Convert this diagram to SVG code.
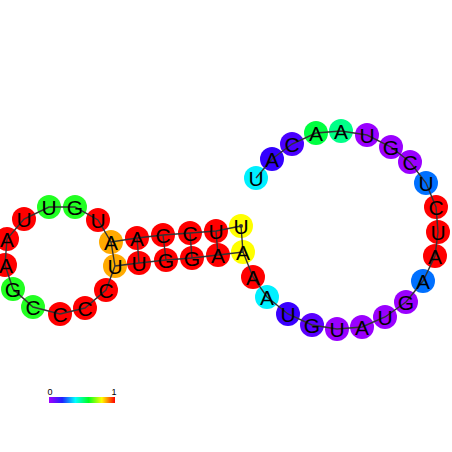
<svg xmlns="http://www.w3.org/2000/svg" width="452" height="452" viewBox="0 0 452 452">
<defs>
<linearGradient id="cb" x1="0" y1="0" x2="1" y2="0">
<stop offset="0" stop-color="#a000ff"/>
<stop offset="0.2" stop-color="#2020ff"/>
<stop offset="0.4" stop-color="#00ffff"/>
<stop offset="0.6" stop-color="#00ff20"/>
<stop offset="0.8" stop-color="#ffff00"/>
<stop offset="1" stop-color="#ff0000"/>
</linearGradient>
<style>
.n circle{stroke:none}
.n text{font-family:"Liberation Sans",Arial,sans-serif;font-size:21px;text-anchor:middle;dominant-baseline:central;fill:#000}
.bb{fill:none;stroke:#333;stroke-width:1.4}
.bp{stroke:#333;stroke-width:1.4}
.lbl{font-family:"Liberation Sans",Arial,sans-serif;font-size:9px;fill:#000;text-anchor:middle}
</style>
</defs>
<rect width="452" height="452" fill="#fff"/>
<g id="circles" class="n">
<circle id="c1" cx="241" cy="226" r="12" fill="#ffff00"/>
<circle id="c2" cx="216" cy="231" r="12" fill="#ff0000"/>
<circle id="c3" cx="190" cy="233" r="12" fill="#ff0000"/>
<circle id="c4" cx="163" cy="235" r="12" fill="#ff0000"/>
<circle id="c5" cx="137" cy="238" r="12" fill="#ff0000"/>
<circle id="c6" cx="111" cy="242" r="12" fill="#ffaa00"/>
<circle id="c7" cx="98" cy="220" r="12" fill="#ff0000"/>
<circle id="c8" cx="75" cy="207" r="12" fill="#22ff22"/>
<circle id="c9" cx="49" cy="207" r="12" fill="#22ff22"/>
<circle id="c10" cx="24" cy="219" r="12" fill="#ff0000"/>
<circle id="c11" cx="7" cy="239" r="12" fill="#ff0000"/>
<circle id="c12" cx="5" cy="265" r="12" fill="#ff0000"/>
<circle id="c13" cx="13" cy="289" r="12" fill="#22ff22"/>
<circle id="c14" cx="33" cy="307" r="12" fill="#22ff22"/>
<circle id="c15" cx="60" cy="314" r="12" fill="#ff0000"/>
<circle id="c16" cx="85" cy="308" r="12" fill="#ff0000"/>
<circle id="c17" cx="106" cy="290" r="12" fill="#ff0000"/>
<circle id="c18" cx="115" cy="266" r="12" fill="#ffaa00"/>
<circle id="c19" cx="139" cy="263" r="12" fill="#ff0000"/>
<circle id="c20" cx="166" cy="260" r="12" fill="#ff0000"/>
<circle id="c21" cx="192" cy="258" r="12" fill="#ff0000"/>
<circle id="c22" cx="218" cy="255" r="12" fill="#ff0000"/>
<circle id="c23" cx="243" cy="252" r="12" fill="#ffff00"/>
<circle id="c24" cx="253" cy="277" r="12" fill="#ff0000"/>
<circle id="c25" cx="267" cy="297" r="12" fill="#00f0ff"/>
<circle id="c26" cx="288" cy="314" r="12" fill="#3a00ff"/>
<circle id="c27" cx="312" cy="325" r="12" fill="#5a00ff"/>
<circle id="c28" cx="337" cy="329" r="12" fill="#9a00ff"/>
<circle id="c29" cx="362" cy="327" r="12" fill="#9a00ff"/>
<circle id="c30" cx="385" cy="317" r="12" fill="#9a00ff"/>
<circle id="c31" cx="406" cy="302" r="12" fill="#9a00ff"/>
<circle id="c32" cx="423" cy="281" r="12" fill="#0070ff"/>
<circle id="c33" cx="435" cy="256" r="12" fill="#ff0000"/>
<circle id="c34" cx="438" cy="232" r="12" fill="#ff0000"/>
<circle id="c35" cx="436" cy="207" r="12" fill="#ff0000"/>
<circle id="c36" cx="426" cy="183" r="12" fill="#0070ff"/>
<circle id="c37" cx="410" cy="162" r="12" fill="#9a00ff"/>
<circle id="c38" cx="391" cy="147" r="12" fill="#9a00ff"/>
<circle id="c39" cx="367" cy="135" r="12" fill="#9a00ff"/>
<circle id="c40" cx="341" cy="131" r="12" fill="#00ff88"/>
<circle id="c41" cx="316" cy="133" r="12" fill="#00ff40"/>
<circle id="c42" cx="292" cy="144" r="12" fill="#4a00ff"/>
<circle id="c43" cx="272" cy="159" r="12" fill="#3300ff"/>
<circle id="c44" cx="256" cy="178" r="12" fill="#00f0ff"/>
</g>
<g id="connectors">
<polyline class="bb" points="241,226 216,231 190,233 163,235 137,238 111,242 98,220 75,207 49,207 24,219 7,239 5,265 13,289 33,307 60,314 85,308 106,290 115,266 139,263 166,260 192,258 218,255 243,252 253,277 267,297 288,314 312,325 337,329 362,327 385,317 406,302 423,281 435,256 438,232 436,207 426,183 410,162 391,147 367,135 341,131 316,133 292,144 272,159 256,178"/>
<line class="bp" x1="241" y1="226" x2="243" y2="252"/>
<line class="bp" x1="216" y1="231" x2="218" y2="255"/>
<line class="bp" x1="190" y1="233" x2="192" y2="258"/>
<line class="bp" x1="163" y1="235" x2="166" y2="260"/>
<line class="bp" x1="137" y1="238" x2="139" y2="263"/>
<line class="bp" x1="111" y1="242" x2="115" y2="266"/>
<circle cx="241" cy="226" r="2" fill="#333"/>
</g>
<g id="labels" class="n">
<text x="241" y="226">U</text>
<text x="216" y="231">U</text>
<text x="190" y="233">C</text>
<text x="163" y="235">C</text>
<text x="137" y="238">A</text>
<text x="111" y="242">A</text>
<text x="98" y="220">U</text>
<text x="75" y="207">G</text>
<text x="49" y="207">U</text>
<text x="24" y="219">U</text>
<text x="7" y="239">A</text>
<text x="6" y="265">A</text>
<text x="13" y="289">G</text>
<text x="33" y="307">C</text>
<text x="60" y="314">C</text>
<text x="85" y="308">C</text>
<text x="106" y="290">C</text>
<text x="115" y="266">U</text>
<text x="139" y="263">U</text>
<text x="166" y="260">G</text>
<text x="192" y="258">G</text>
<text x="218" y="255">A</text>
<text x="243" y="252">A</text>
<text x="253" y="277">A</text>
<text x="267" y="297">A</text>
<text x="288" y="314">U</text>
<text x="312" y="325">G</text>
<text x="337" y="329">U</text>
<text x="362" y="327">A</text>
<text x="385" y="317">U</text>
<text x="406" y="302">G</text>
<text x="423" y="281">A</text>
<text x="435" y="256">A</text>
<text x="438" y="232">U</text>
<text x="436" y="207">C</text>
<text x="426" y="183">U</text>
<text x="410" y="162">C</text>
<text x="391" y="147">G</text>
<text x="367" y="135">U</text>
<text x="341" y="131">A</text>
<text x="316" y="133">A</text>
<text x="292" y="144">C</text>
<text x="272" y="159">A</text>
<text x="256" y="178">U</text>
</g>
<g id="colorbar">
<rect x="49" y="397" width="66" height="6" fill="url(#cb)"/>
<text class="lbl" x="50" y="395">0</text>
<text class="lbl" x="114" y="395">1</text>
</g>
</svg>
